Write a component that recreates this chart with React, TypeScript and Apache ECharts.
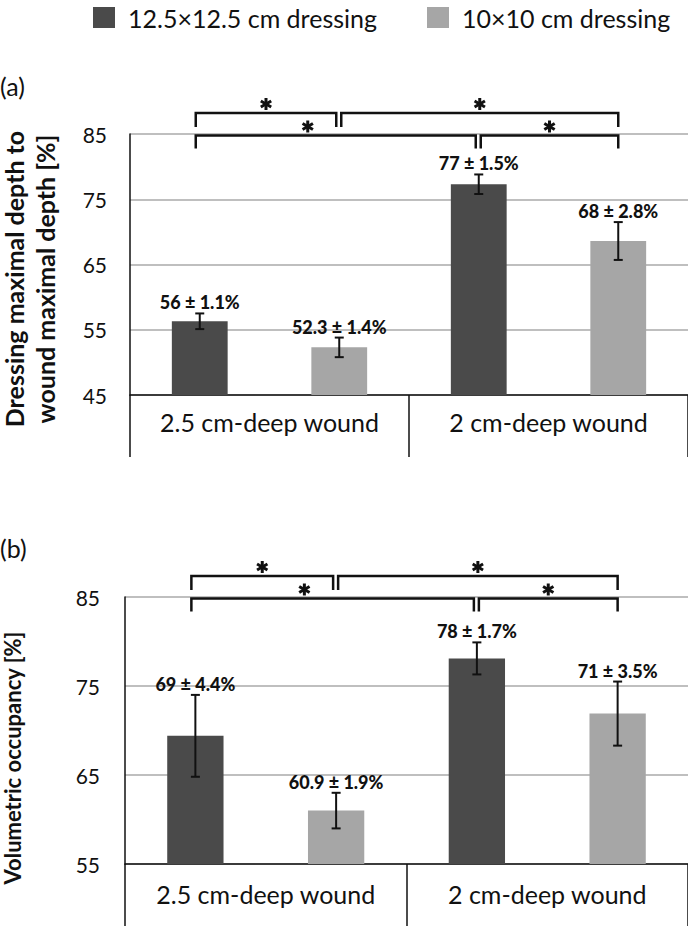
import React, { useEffect, useRef } from 'react';
import * as echarts from 'echarts';

// ---------- data ----------
const categories = ['2.5 cm-deep wound', '2 cm-deep wound'];
const seriesNames = ['12.5×12.5 cm dressing', '10×10 cm dressing'];

// Panel (a): dressing maximal depth / wound maximal depth [%]
const depthTicks = [45, 55, 65, 75, 85];
const depthLarge = [56.3, 77.3];
const depthLargeErr = [1.2, 1.5];
const depthLargeLabels = ['56 ± 1.1%', '77 ± 1.5%'];
const depthSmall = [52.3, 68.6];
const depthSmallErr = [1.5, 2.9];
const depthSmallLabels = ['52.3 ± 1.4%', '68 ± 2.8%'];

// Panel (b): volumetric occupancy [%]
const occTicks = [55, 65, 75, 85];
const occLarge = [69.4, 78.1];
const occLargeErr = [4.6, 1.8];
const occLargeLabels = ['69 ± 4.4%', '78 ± 1.7%'];
const occSmall = [61.0, 71.9];
const occSmallErr = [2.0, 3.6];
const occSmallLabels = ['60.9 ± 1.9%', '71 ± 3.5%'];

// significance comparisons: [barFrom, barTo, row] (bar 0 = large@cat0, 1 = small@cat0, 2 = large@cat1, 3 = small@cat1; row 0 = upper, 1 = lower)
const comparisons = [
  [0, 1, 0],
  [1, 3, 0],
  [0, 2, 1],
  [2, 3, 1],
];

// ---------- styles ----------
const DARK = '#4a4a4a';
const LIGHT = '#a6a6a6';
const INK = '#111111';
const FONT = 'Lato, "Open Sans", sans-serif';
const starShift: Record<string, number> = { '0-2': 0.4 };

function sideOffset(idx: number) {
  return idx % 2 === 0 ? -0.25 : 0.25;
}

function asterisk(cx: number, cy: number) {
  const r = 6;
  const st = { stroke: INK, lineWidth: 3, lineCap: 'butt' };
  const arms = [90, 30, 150].map((deg) => {
    const a = (deg * Math.PI) / 180;
    const dx = Math.cos(a) * r;
    const dy = Math.sin(a) * r;
    return {
      type: 'line',
      shape: { x1: cx - dx, y1: cy - dy, x2: cx + dx, y2: cy + dy },
      style: st,
    };
  });
  return arms;
}

function bracketSeries(gridIndex: number, span: number) {
  return {
    type: 'custom',
    xAxisIndex: gridIndex,
    yAxisIndex: gridIndex,
    silent: true,
    clip: false,
    z: 20,
    encode: { x: 0, y: 1 },
    data: comparisons.map((c) => [0, 0, c[0], c[1], c[2]]),
    renderItem: (params: any, api: any) => {
      const a = api.value(2);
      const b = api.value(3);
      const row = api.value(4);
      const band = api.size([1, 0])[0];
      const cx = (idx: number) =>
        api.coord([Math.floor(idx / 2), 0])[0] + sideOffset(idx) * band;
      const top = api.coord([0, span])[1];
      const sharedStart = comparisons.some((c) => c[2] === row && c[1] === a);
      const sharedEnd = comparisons.some((c) => c[2] === row && c[0] === b);
      const x1 = cx(a) + (sharedStart ? 2 : -4);
      const x2 = cx(b) + (sharedEnd ? -3 : 0);
      const yH = row === 0 ? top - 21 : top + 1.5;
      const yL = row === 0 ? top - 7 : top + 14.5;
      const frac = starShift[`${a}-${b}`] ?? 0.5;
      const sx = x1 + (x2 - x1) * frac;
      const sy = row === 0 ? top - 30 : top - 7.5;
      return {
        type: 'group',
        children: [
          {
            type: 'polyline',
            shape: { points: [[x1, yL], [x1, yH], [x2, yH], [x2, yL]] },
            style: { stroke: INK, lineWidth: 2.5, fill: null },
          },
          ...asterisk(sx, sy),
        ],
      };
    },
  };
}

function errorSeries(
  gridIndex: number,
  side: number,
  values: number[],
  errs: number[],
  labels: string[],
  base: number
) {
  return {
    type: 'custom',
    xAxisIndex: gridIndex,
    yAxisIndex: gridIndex,
    silent: true,
    clip: false,
    z: 15,
    encode: { x: 0, y: 1 },
    data: values.map((v, i) => [i, v - base, errs[i]]),
    renderItem: (params: any, api: any) => {
      const cat = api.value(0);
      const v = api.value(1);
      const e = api.value(2);
      const band = api.size([1, 0])[0];
      const x = api.coord([cat, v])[0] + sideOffset(side) * band;
      const yt = api.coord([cat, v + e])[1];
      const yb = api.coord([cat, v - e])[1];
      const cap = 4.5;
      const st = { stroke: INK, lineWidth: 2 };
      return {
        type: 'group',
        children: [
          { type: 'line', shape: { x1: x, y1: yt, x2: x, y2: yb }, style: st },
          { type: 'line', shape: { x1: x - cap, y1: yt, x2: x + cap, y2: yt }, style: st },
          { type: 'line', shape: { x1: x - cap, y1: yb, x2: x + cap, y2: yb }, style: st },
          {
            type: 'text',
            x: x,
            y: yt - 11,
            style: {
              text: labels[params.dataIndex],
              fill: INK,
              font: `900 18px ${FONT}`,
              textAlign: 'center',
              textVerticalAlign: 'middle',
            },
          },
        ],
      };
    },
  };
}

export default function App() {
  const ref = useRef<HTMLDivElement>(null);

  useEffect(() => {
    if (!ref.current) return;
    const chart = echarts.init(ref.current, undefined, { renderer: 'svg' });

    const baseA = depthTicks[0];
    const spanA = depthTicks[depthTicks.length - 1] - baseA;
    const baseB = occTicks[0];
    const spanB = occTicks[occTicks.length - 1] - baseB;

    const xAxisCommon = (gridIndex: number, tickLen: number, margin: number) => ({
      gridIndex,
      type: 'category',
      data: categories,
      axisLine: { show: true, lineStyle: { color: INK, width: 1.5 } },
      axisTick: {
        show: true,
        interval: 0,
        length: tickLen,
        lineStyle: { color: INK, width: 1.5 },
      },
      axisLabel: { interval: 0, fontSize: 25, fontFamily: FONT, color: INK, margin },
    });
    const yAxisCommon = (gridIndex: number, base: number, span: number, margin: number) => ({
      gridIndex,
      type: 'value',
      min: 0,
      max: span,
      interval: 10,
      axisLine: { show: true, lineStyle: { color: INK, width: 1.5 } },
      axisTick: { show: false },
      axisLabel: {
        fontSize: 21,
        fontFamily: FONT,
        color: INK,
        margin,
        formatter: (v: number) => String(v + base),
      },
      splitLine: { show: true, lineStyle: { color: '#aaaaaa', width: 1.5 } },
    });

    const barCommon = { barWidth: '20%', barGap: '150%', silent: true };

    chart.setOption({
      animation: false,
      backgroundColor: '#ffffff',
      legend: {
        left: 88,
        top: 0,
        icon: 'rect',
        itemWidth: 22,
        itemHeight: 21,
        itemGap: 50,
        selectedMode: false,
        data: seriesNames,
        textStyle: { fontSize: 25, fontFamily: FONT, color: INK, padding: [0, 0, 0, 8] },
      },
      grid: [
        { left: 130, top: 134, height: 261, width: 560 },
        { left: 125, top: 597, height: 267, width: 565 },
      ],
      xAxis: [xAxisCommon(0, 62, 14), xAxisCommon(1, 70, 17)],
      yAxis: [yAxisCommon(0, baseA, spanA, 23), yAxisCommon(1, baseB, spanB, 25)],
      graphic: [
        {
          type: 'text',
          x: 0,
          y: 86,
          style: { text: '(a)', font: `25px ${FONT}`, fill: INK, textVerticalAlign: 'middle' },
        },
        {
          type: 'text',
          x: 0,
          y: 548,
          style: { text: '(b)', font: `25px ${FONT}`, fill: INK, textVerticalAlign: 'middle' },
        },
        {
          type: 'text',
          x: 29,
          y: 279,
          rotation: Math.PI / 2,
          style: {
            text: 'Dressing maximal depth to\nwound maximal depth [%]',
            font: `bold 25px ${FONT}`,
            lineHeight: 31,
            fill: INK,
            textAlign: 'center',
            textVerticalAlign: 'middle',
          },
        },
        {
          type: 'text',
          x: 12,
          y: 758,
          rotation: Math.PI / 2,
          style: {
            text: 'Volumetric occupancy [%]',
            font: `bold 22px ${FONT}`,
            fill: INK,
            textAlign: 'center',
            textVerticalAlign: 'middle',
          },
        },
      ],
      series: [
        {
          ...barCommon,
          type: 'bar',
          name: seriesNames[0],
          xAxisIndex: 0,
          yAxisIndex: 0,
          itemStyle: { color: DARK },
          data: depthLarge.map((v) => v - baseA),
        },
        {
          ...barCommon,
          type: 'bar',
          name: seriesNames[1],
          xAxisIndex: 0,
          yAxisIndex: 0,
          itemStyle: { color: LIGHT },
          data: depthSmall.map((v) => v - baseA),
        },
        {
          ...barCommon,
          type: 'bar',
          name: seriesNames[0],
          xAxisIndex: 1,
          yAxisIndex: 1,
          itemStyle: { color: DARK },
          data: occLarge.map((v) => v - baseB),
        },
        {
          ...barCommon,
          type: 'bar',
          name: seriesNames[1],
          xAxisIndex: 1,
          yAxisIndex: 1,
          itemStyle: { color: LIGHT },
          data: occSmall.map((v) => v - baseB),
        },
        errorSeries(0, 0, depthLarge, depthLargeErr, depthLargeLabels, baseA),
        errorSeries(0, 1, depthSmall, depthSmallErr, depthSmallLabels, baseA),
        errorSeries(1, 0, occLarge, occLargeErr, occLargeLabels, baseB),
        errorSeries(1, 1, occSmall, occSmallErr, occSmallLabels, baseB),
        bracketSeries(0, spanA),
        bracketSeries(1, spanB),
      ],
    });

    return () => chart.dispose();
  }, []);

  return (
    <div
      ref={ref}
      style={{ position: 'fixed', left: 0, top: 0, width: 688, height: 926, background: '#fff' }}
    />
  );
}
